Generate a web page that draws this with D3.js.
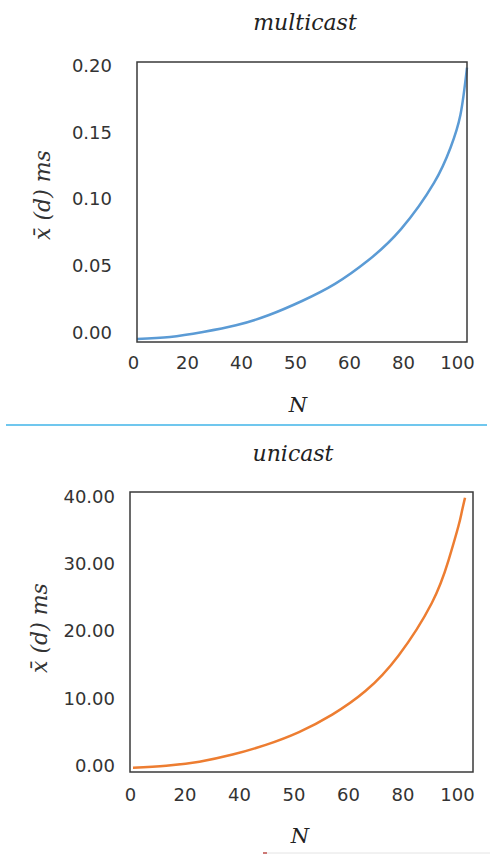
<!DOCTYPE html>
<html>
<head>
<meta charset="utf-8">
<script src="https://cdn.jsdelivr.net/npm/d3@7"></script>
<style>
  body { margin: 0; background: #fff; }
</style>
</head>
<body>
<script>
// Tick labels shown under both panels (evenly spaced, as in the original)
const xTickLabels = ['0', '20', '40', '50', '60', '80', '100'];

// multicast delay, ms, sampled along the N axis
const multicastN = [0, 10, 20, 30, 40, 50, 60, 70, 80, 90, 95, 98, 100];
const multicastValues = [-0.0052, -0.0037, 0.0, 0.005, 0.0127, 0.0232, 0.036, 0.0535, 0.077, 0.1116, 0.138, 0.1625, 0.198];
const multicastTicks = [0, 0.05, 0.1, 0.15, 0.2];

// unicast delay, ms
const unicastN = [0, 10, 20, 30, 40, 50, 60, 70, 80, 90, 95, 98, 99, 100];
const unicastValues = [-0.4, -0.1, 0.5, 1.55, 3.0, 4.9, 7.5, 11.0, 16.3, 24.1, 30.4, 35.5, 37.6, 39.75];
const unicastTicks = [0, 10, 20, 30, 40];

const width = 490;
const height = 856;

const svg = d3.select('body')
  .append('svg')
  .attr('width', width)
  .attr('height', height);

svg.append('rect')
  .attr('width', width)
  .attr('height', height)
  .attr('fill', 'white');

function drawPanel(opts) {
  const g = svg.append('g');
  const f = opts.frame;

  // x scale for the curve and a point scale for the evenly spaced labels
  const x = d3.scaleLinear().domain(opts.xDomain).range([f.left, f.right]);
  const xLabels = d3.scalePoint().domain(xTickLabels).range(opts.labelRange);
  const y = d3.scaleLinear().domain(opts.yDomain).range([f.bottom, f.top]);

  // Title
  g.append('text')
    .attr('x', opts.titleX)
    .attr('y', opts.titleY)
    .attr('text-anchor', 'middle')
    .attr('font-family', 'DejaVu Serif')
    .attr('font-style', 'italic')
    .attr('font-size', '22px')
    .attr('fill', '#222')
    .text(opts.title);

  // Curve
  const line = d3.line()
    .x((d) => x(d[0]))
    .y((d) => y(d[1]))
    .curve(d3.curveNatural);

  g.append('path')
    .datum(opts.n.map((n, i) => [n, opts.values[i]]))
    .attr('fill', 'none')
    .attr('stroke', opts.color)
    .attr('stroke-width', 2.5)
    .attr('d', line);

  // Frame
  g.append('rect')
    .attr('x', f.left)
    .attr('y', f.top)
    .attr('width', f.right - f.left)
    .attr('height', f.bottom - f.top)
    .attr('fill', 'none')
    .attr('stroke', '#3a3a3a')
    .attr('stroke-width', 1.5);

  // Y axis labels
  const yAxis = g.append('g')
    .attr('transform', `translate(${opts.yLabelX},0)`)
    .call(d3.axisLeft(y).tickValues(opts.yTicks).tickSize(0).tickFormat(d3.format('.2f')));
  yAxis.select('.domain').remove();
  yAxis.selectAll('text')
    .attr('font-family', 'DejaVu Sans')
    .attr('font-size', '18px')
    .attr('fill', '#333')
    .attr('dy', '0.35em')
    .attr('x', 0);

  // X axis labels
  const xAxis = g.append('g')
    .attr('transform', `translate(0,${opts.xLabelY})`)
    .call(d3.axisBottom(xLabels).tickSize(0));
  xAxis.select('.domain').remove();
  xAxis.selectAll('text')
    .attr('font-family', 'DejaVu Sans')
    .attr('font-size', '18px')
    .attr('fill', '#333')
    .attr('dy', '0.35em')
    .attr('y', 0);

  // Axis titles
  g.append('text')
    .attr('transform', `translate(${opts.yTitleX},${opts.yTitleY}) rotate(-90)`)
    .attr('text-anchor', 'middle')
    .attr('dy', '0.35em')
    .attr('font-family', 'DejaVu Serif')
    .attr('font-style', 'italic')
    .attr('font-size', '22px')
    .attr('fill', '#333')
    .text('x\u0304 (d) ms');

  g.append('text')
    .attr('x', opts.nX)
    .attr('y', opts.nY)
    .attr('text-anchor', 'middle')
    .attr('dy', '0.35em')
    .attr('font-family', 'DejaVu Serif')
    .attr('font-style', 'italic')
    .attr('font-size', '21px')
    .attr('fill', '#222')
    .text('N');
}

drawPanel({
  title: 'multicast',
  titleX: 305, titleY: 30,
  frame: { left: 137, right: 467, top: 62, bottom: 342 },
  xDomain: [0, 100],
  yDomain: [-0.0075, 0.2022],
  n: multicastN,
  values: multicastValues,
  yTicks: multicastTicks,
  color: '#5b9bd5',
  labelRange: [133, 457],
  yLabelX: 112,
  xLabelY: 363,
  yTitleX: 42, yTitleY: 195,
  nX: 298, nY: 405
});

// Separator between the two panels
svg.append('line')
  .attr('x1', 6).attr('x2', 487)
  .attr('y1', 425).attr('y2', 425)
  .attr('stroke', '#41b4e8')
  .attr('stroke-width', 1.5);

drawPanel({
  title: 'unicast',
  titleX: 293, titleY: 461,
  frame: { left: 130, right: 473, top: 492, bottom: 772 },
  xDomain: [-0.9, 102.4],
  yDomain: [-1.04, 40.6],
  n: unicastN,
  values: unicastValues,
  yTicks: unicastTicks,
  color: '#ed7d31',
  labelRange: [130, 457],
  yLabelX: 115,
  xLabelY: 795,
  yTitleX: 39, yTitleY: 628,
  nX: 300, nY: 836
});

// faint edge of the cropped page at the bottom
svg.append('line')
  .attr('x1', 263).attr('x2', 490)
  .attr('y1', 853).attr('y2', 853)
  .attr('stroke', '#e4e4e4')
  .attr('stroke-width', 1);
svg.append('line')
  .attr('x1', 263).attr('x2', 267)
  .attr('y1', 853).attr('y2', 853)
  .attr('stroke', '#c0504d')
  .attr('stroke-width', 1.5);
</script>
</body>
</html>
